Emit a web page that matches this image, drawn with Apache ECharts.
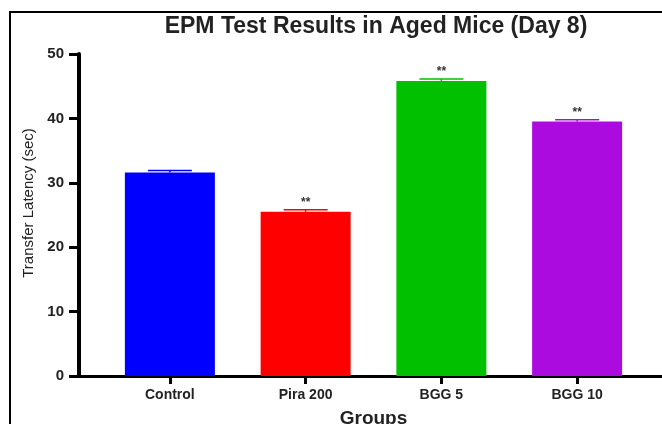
<!DOCTYPE html>
<html>
<head>
<meta charset="utf-8">
<script src="https://cdn.jsdelivr.net/npm/echarts@6/dist/echarts.min.js"></script>
<style>
  html, body { margin: 0; padding: 0; background: #fff; }
  #chart { width: 662px; height: 424px; }
</style>
</head>
<body>
<div id="chart"></div>
<script>
const categories = ["Control", "Pira 200", "BGG 5", "BGG 10"];
const means = [31.6, 25.5, 45.8, 39.5];
const sems = [0.3, 0.3, 0.3, 0.3];
const marks = ["", "**", "**", "**"];
const barColors = ["#0000ff", "#ff0000", "#00c000", "#ac0be0"];
const yTicks = { min: 0, max: 50, interval: 10 };

const font = "Liberation Sans";
const chart = echarts.init(document.getElementById("chart"));

function renderErrorBar(params, api) {
  const i = api.value(0);
  const top = api.coord([i, api.value(1) + api.value(2)]);
  const base = api.coord([i, api.value(1)]);
  const half = api.size([1, 0])[0] * 0.162;
  const color = barColors[i];
  return {
    type: "group",
    children: [
      { type: "line", shape: { x1: top[0], y1: top[1], x2: top[0], y2: base[1] }, style: { stroke: color, lineWidth: 1.5 } },
      { type: "line", shape: { x1: top[0] - half, y1: top[1], x2: top[0] + half, y2: top[1] }, style: { stroke: color, lineWidth: 1.5 } },
      {
        type: "text",
        style: {
          text: marks[i], x: top[0], y: top[1] - 1,
          align: "center", verticalAlign: "bottom",
          fill: "#333", font: "bold 12px " + font,
        },
      },
    ],
  };
}

chart.setOption({
  backgroundColor: "#fff",
  animation: false,
  title: {
    text: "EPM Test Results in Aged Mice (Day 8)",
    left: 371, top: 10, textAlign: "center",
    textStyle: { fontFamily: font, fontWeight: "bold", fontSize: 23, color: "#222" },
  },
  graphic: [
    { type: "polyline", shape: { points: [[10, 424], [10, 12], [662, 12]] }, style: { stroke: "#000", lineWidth: 2, fill: null } },
  ],
  grid: [
    { left: 79, right: 0, top: 54, bottom: 48, outerBoundsMode: "none" },
    { left: 102, right: 17, top: 54, bottom: 48, outerBoundsMode: "none" },
  ],
  xAxis: [
    {
      gridIndex: 0, type: "value", min: 0, max: 1,
      axisLine: { show: true, lineStyle: { color: "#000", width: 3 } },
      axisTick: { show: false }, axisLabel: { show: false }, splitLine: { show: false },
    },
    {
      gridIndex: 1, type: "category", data: categories,
      name: "Groups", nameLocation: "middle", nameGap: 33,
      nameTextStyle: { fontFamily: font, fontWeight: "bold", fontSize: 19, color: "#222" },
      axisLine: { show: true, lineStyle: { color: "#000", width: 3 } },
      axisTick: { show: true, alignWithLabel: true, length: 8, lineStyle: { color: "#000", width: 3 } },
      axisLabel: { fontFamily: font, fontWeight: "bold", fontSize: 14, color: "#222", margin: 12 },
    },
  ],
  yAxis: [
    {
      gridIndex: 0, type: "value", ...yTicks,
      name: "Transfer Latency (sec)", nameLocation: "middle", nameGap: 42,
      nameTextStyle: { fontFamily: font, fontSize: 15, color: "#222", padding: [0, 0, 0, 24] },
      axisLine: { show: true, lineStyle: { color: "#000", width: 4 } },
      axisTick: { show: true, length: 10, lineStyle: { color: "#000", width: 3 } },
      axisLabel: { fontFamily: font, fontWeight: "bold", fontSize: 15, color: "#222", margin: 15 },
      splitLine: { show: false },
    },
    { gridIndex: 1, type: "value", ...yTicks, show: false, splitLine: { show: false } },
  ],
  series: [
    {
      type: "bar", xAxisIndex: 1, yAxisIndex: 1, barWidth: 90,
      data: means.map((v, i) => ({ value: v, itemStyle: { color: barColors[i] } })),
    },
    {
      type: "custom", xAxisIndex: 1, yAxisIndex: 1,
      renderItem: renderErrorBar,
      encode: { x: 0, y: 1 },
      data: means.map((m, i) => [i, m, sems[i]]),
      z: 3,
    },
  ],
});
</script>
</body>
</html>
